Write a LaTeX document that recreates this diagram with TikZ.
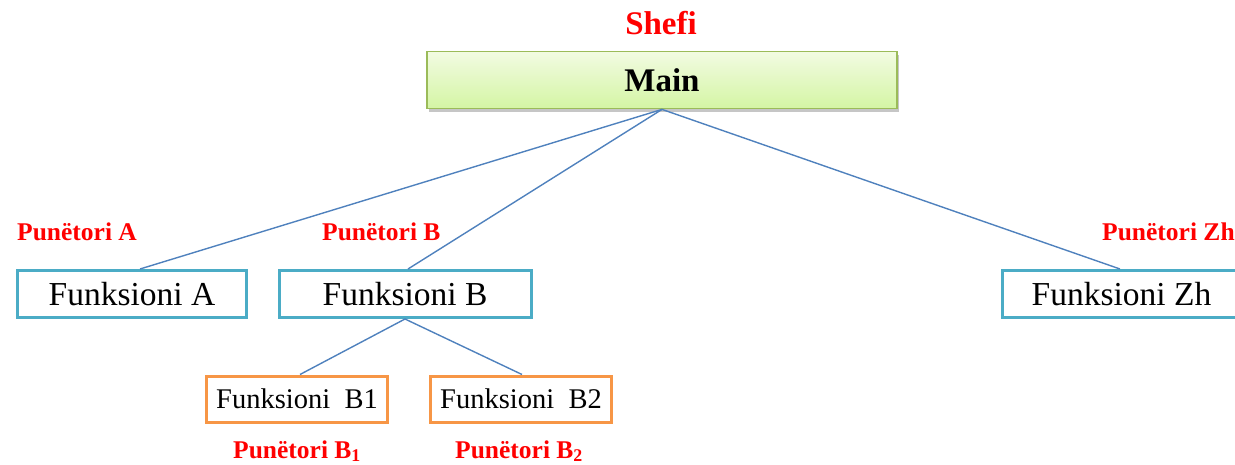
\documentclass[tikz,border=0pt]{standalone}
\usepackage{fontspec}
\setmainfont{Liberation Serif}
\usetikzlibrary{shadows}
\definecolor{teal}{HTML}{4BACC6}
\definecolor{orng}{HTML}{F79646}
\definecolor{grn}{HTML}{9BBB59}
\definecolor{gtop}{HTML}{F2FBE2}
\definecolor{gbot}{HTML}{D4F5A4}
\definecolor{conn}{HTML}{4F81BD}
\definecolor{lbl}{HTML}{FF0000}
\begin{document}
\begin{tikzpicture}[x=1pt,y=-1pt,
  mainbox/.style={draw=grn,line width=1.8pt,top color=gtop,bottom color=gbot,
    minimum width=470pt,minimum height=57pt,inner sep=0pt,
    drop shadow={shadow xshift=2pt,shadow yshift=-4pt,opacity=0.45},
    font=\fontsize{33}{33}\selectfont\bfseries},
  funbox/.style={draw=teal,line width=3pt,fill=white,minimum height=47pt,inner sep=0pt,
    font=\fontsize{33.5}{33}\selectfont},
  subbox/.style={draw=orng,line width=3pt,fill=white,minimum width=181pt,minimum height=46pt,inner sep=0pt,
    font=\fontsize{28.5}{28}\selectfont},
  redlbl/.style={text=lbl,inner sep=0pt,anchor=base west,font=\fontsize{25.5}{25}\selectfont\bfseries},
  link/.style={draw=conn,line width=1.4pt}]
\useasboundingbox (0,0) rectangle (1235,465);
\node[redlbl,anchor=base,font=\fontsize{33}{33}\selectfont\bfseries] (shefi) at (661,35) {Shefi};
\node[mainbox] (main) at (662,80) {Main};
\node[funbox,minimum width=229pt] (fa) at (132,294) {\raisebox{-1pt}{Funksioni A}};
\node[funbox,minimum width=252pt] (fb) at (405,294) {\raisebox{-1pt}{Funksioni B}};
\node[funbox,minimum width=260pt,anchor=west] (fz) at (1001,294) {\hspace*{-22pt}\raisebox{-1pt}{Funksioni Zh}};
\node[subbox] (b1) at (297,399) {Funksioni\ \ B1};
\node[subbox] (b2) at (521,399) {Funksioni\ \ B2};
\node[redlbl] (pa) at (17,241) {Punëtori A};
\node[redlbl] (pb) at (322,241) {Punëtori B};
\node[redlbl] (pz) at (1102,241) {Punëtori Zh};
\node[redlbl] (pb1) at (233,458) {Punëtori B\textsubscript{1}};
\node[redlbl] (pb2) at (455,458) {Punëtori B\textsubscript{2}};
\coordinate (mb) at (main.south);
\draw[link] (mb) -- ([xshift=8pt]fa.north);
\draw[link] (mb) -- ([xshift=3pt]fb.north);
\draw[link] (mb) -- ([xshift=-5pt]fz.north west -| 1125,0) ;
\draw[link] (fb.south) -- ([xshift=3pt]b1.north);
\draw[link] (fb.south) -- ([xshift=1pt]b2.north);
\end{tikzpicture}
\end{document}
